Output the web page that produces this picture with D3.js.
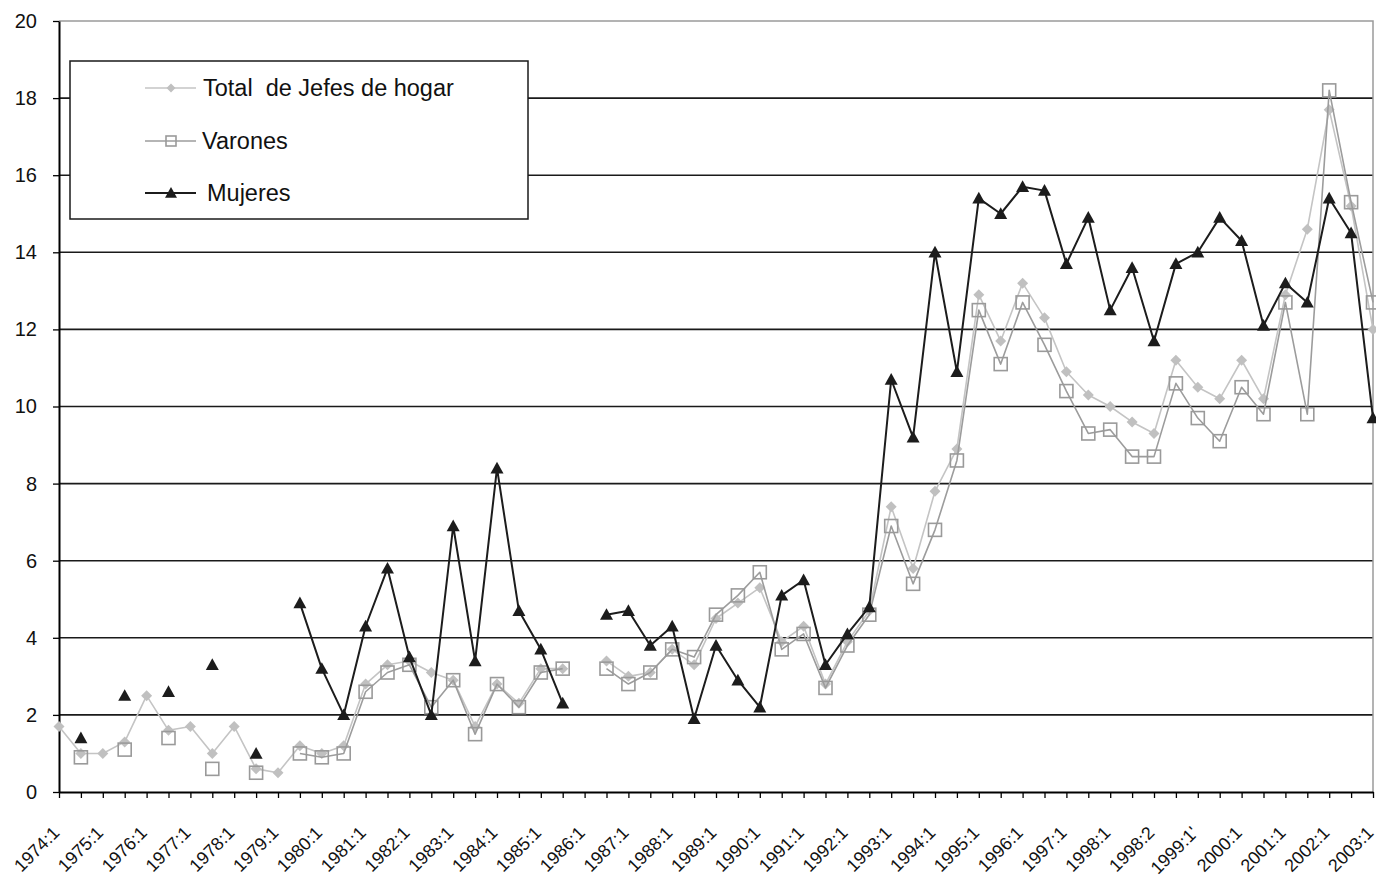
<!DOCTYPE html>
<html><head><meta charset="utf-8">
<script src="https://cdn.jsdelivr.net/npm/d3@7"></script>
<style>
body{margin:0;background:#fff;}
svg{display:block;font-family:Arial,"Liberation Sans",sans-serif;}
</style>
</head><body>
<svg id="chart" width="1376" height="879"></svg>
<script>
// Category labels (semesters); unlabeled positions are blank strings
const categories = [
 "1974:1","","1975:1","","1976:1","","1977:1","","1978:1","","1979:1","",
 "1980:1","","1981:1","","1982:1","","1983:1","","1984:1","","1985:1","",
 "1986:1","","1987:1","","1988:1","","1989:1","","1990:1","","1991:1","",
 "1992:1","","1993:1","","1994:1","","1995:1","","1996:1","","1997:1","",
 "1998:1","","1998:2","","1999:1'","","2000:1","","2001:1","","2002:1","","2003:1"
];
const yTicks = [0,2,4,6,8,10,12,14,16,18,20];
const seriesNames = ["Total  de Jefes de hogar","Varones","Mujeres"];

const total = [1.7,1.0,1.0,1.3,2.5,1.6,1.7,1.0,1.7,0.6,0.5,1.2,1.0,1.2,2.8,3.3,3.4,3.1,2.9,1.7,
 2.8,2.3,3.2,3.2,null,3.4,3.0,3.1,3.7,3.3,4.5,4.9,5.3,3.9,4.3,2.8,3.9,4.7,7.4,5.8,
 7.8,8.9,12.9,11.7,13.2,12.3,10.9,10.3,10.0,9.6,9.3,11.2,10.5,10.2,11.2,10.2,12.9,14.6,17.7,15.2,12.0];
const varones = [null,0.9,null,1.1,null,1.4,null,0.6,null,0.5,null,1.0,0.9,1.0,2.6,3.1,3.3,2.2,2.9,1.5,
 2.8,2.2,3.1,3.2,null,3.2,2.8,3.1,3.7,3.5,4.6,5.1,5.7,3.7,4.1,2.7,3.8,4.6,6.9,5.4,
 6.8,8.6,12.5,11.1,12.7,11.6,10.4,9.3,9.4,8.7,8.7,10.6,9.7,9.1,10.5,9.8,12.7,9.8,18.2,15.3,12.7];
const mujeres = [null,1.4,null,2.5,null,2.6,null,3.3,null,1.0,null,4.9,3.2,2.0,4.3,5.8,3.5,2.0,6.9,3.4,
 8.4,4.7,3.7,2.3,null,4.6,4.7,3.8,4.3,1.9,3.8,2.9,2.2,5.1,5.5,3.3,4.1,4.8,10.7,9.2,
 14.0,10.9,15.4,15.0,15.7,15.6,13.7,14.9,12.5,13.6,11.7,13.7,14.0,14.9,14.3,12.1,13.2,12.7,15.4,14.5,9.7];

const svg = d3.select("#chart");
const mLeft = 59, mRight = 1373, mTop = 21, mBottom = 792;

const x = d3.scalePoint().domain(d3.range(categories.length)).range([mLeft, mRight]);
const y = d3.scaleLinear().domain([0, 20]).range([mBottom, mTop]);

// gridlines
svg.append("g").selectAll("line").data(yTicks.filter(v => v > 0 && v < 20)).join("line")
  .attr("x1", mLeft).attr("x2", mRight).attr("y1", d => y(d)).attr("y2", d => y(d))
  .attr("stroke", "#1a1a1a").attr("stroke-width", 1.6);
// plot border top/right (grey)
svg.append("path")
  .attr("d", `M${mLeft},${y(20)}H${mRight}V${y(0)}`)
  .attr("fill", "none").attr("stroke", "#9a9a9a").attr("stroke-width", 1.5);

// axes
const xAxis = svg.append("g").attr("transform", `translate(0,${mBottom})`)
  .call(d3.axisBottom(x).tickSize(6).tickSizeOuter(0).tickFormat(i => categories[i]));
xAxis.select(".domain").attr("stroke", "#000").attr("stroke-width", 2);
xAxis.selectAll(".tick line").attr("stroke", "#000").attr("stroke-width", 1.3);
xAxis.selectAll(".tick text")
  .attr("x", 0).attr("y", 0).attr("dy", 0)
  .attr("text-anchor", "end")
  .attr("transform", "translate(1,42) rotate(-45)")
  .attr("font-size", 18).attr("font-family", "Arial, 'Liberation Sans', sans-serif")
  .attr("fill", "#111");

const yAxis = svg.append("g").attr("transform", `translate(${mLeft},0)`)
  .call(d3.axisLeft(y).tickValues(yTicks).tickSize(6).tickSizeOuter(0).tickPadding(16));
yAxis.select(".domain").attr("stroke", "#000").attr("stroke-width", 2);
yAxis.selectAll(".tick line").attr("stroke", "#000").attr("stroke-width", 1.3);
yAxis.selectAll(".tick text")
  .attr("font-size", 20).attr("font-family", "Arial, 'Liberation Sans', sans-serif")
  .attr("fill", "#111");

const line = d3.line().defined(d => d.v != null).x(d => x(d.i)).y(d => y(d.v));
const pts = arr => arr.map((v, i) => ({i, v}));

const styles = [
  {data: total, stroke: "#c4c4c4", width: 1.6, marker: "diamond"},
  {data: varones, stroke: "#9c9c9c", width: 1.6, marker: "square"},
  {data: mujeres, stroke: "#1c1c1c", width: 2, marker: "triangle"}
];

function drawMarker(g, type, size) {
  if (type === "diamond") {
    const s = size || 5.5;
    g.append("path").attr("d", `M0,${-s}L${s},0L0,${s}L${-s},0Z`).attr("fill", "#c0c0c0");
  } else if (type === "square") {
    const s = size || 6.5;
    g.append("rect").attr("x", -s).attr("y", -s).attr("width", 2*s).attr("height", 2*s)
      .attr("fill", "none").attr("stroke", "#9a9a9a").attr("stroke-width", 1.6);
  } else {
    const s = size || 6.5;
    g.append("path").attr("d", `M0,${-s}L${s},${s*0.8}L${-s},${s*0.8}Z`).attr("fill", "#1c1c1c");
  }
}

styles.forEach(st => {
  const p = pts(st.data);
  svg.append("path").datum(p).attr("d", line)
    .attr("fill", "none").attr("stroke", st.stroke).attr("stroke-width", st.width)
    .attr("stroke-linejoin", "round");
  const mg = svg.append("g");
  p.filter(d => d.v != null).forEach(d => {
    const g = mg.append("g").attr("transform", `translate(${x(d.i)},${y(d.v)})`);
    drawMarker(g, st.marker);
  });
});

// legend
const lg = svg.append("g");
lg.append("rect").attr("x", 70).attr("y", 61).attr("width", 458).attr("height", 158)
  .attr("fill", "#fff").attr("stroke", "#1a1a1a").attr("stroke-width", 1.5);
const rows = [88, 141, 193];
const textX = [203, 202, 207];
seriesNames.forEach((name, k) => {
  const st = styles[k];
  lg.append("line").attr("x1", 145).attr("x2", 196).attr("y1", rows[k]).attr("y2", rows[k])
    .attr("stroke", st.stroke).attr("stroke-width", st.width);
  const g = lg.append("g").attr("transform", `translate(171,${rows[k]})`);
  drawMarker(g, st.marker, k === 0 ? 4.5 : (k === 1 ? 5 : 6));
  lg.append("text").attr("x", textX[k]).attr("y", rows[k]).attr("dy", "0.36em")
    .attr("font-size", 23.5).attr("fill", "#111").attr("xml:space", "preserve")
    .style("white-space", "pre").text(name);
});
</script>
</body></html>
